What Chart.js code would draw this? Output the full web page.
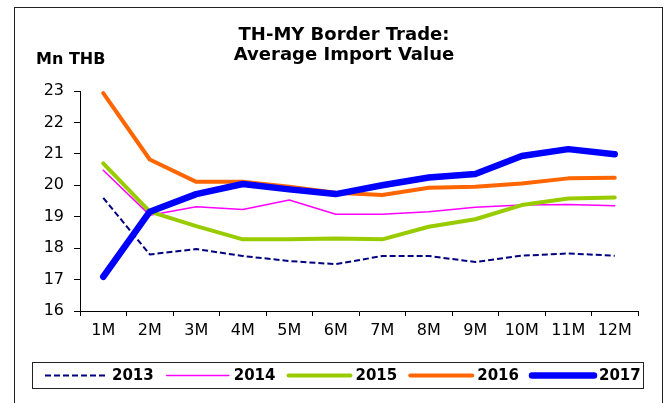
<!DOCTYPE html>
<html>
<head>
<meta charset="utf-8">
<title>TH-MY Border Trade: Average Import Value</title>
<script src="https://cdn.jsdelivr.net/npm/chart.js@4/dist/chart.umd.min.js"></script>
<style>
  html, body { margin: 0; padding: 0; background: #fff; }
  canvas { display: block; }
</style>
</head>
<body>
<canvas id="borderTradeChart" width="667" height="403"></canvas>
<script>
// Monthly average import value, Mn THB
var months = ["1M", "2M", "3M", "4M", "5M", "6M", "7M", "8M", "9M", "10M", "11M", "12M"];
var years = ["2013", "2014", "2015", "2016", "2017"];

var import2013 = [19.60, 17.80, 17.97, 17.75, 17.59, 17.49, 17.75, 17.75, 17.56, 17.76, 17.83, 17.76];
var import2014 = [20.48, 19.05, 19.32, 19.23, 19.53, 19.08, 19.08, 19.16, 19.30, 19.37, 19.39, 19.35];
var import2015 = [20.70, 19.16, 18.70, 18.28, 18.28, 18.31, 18.28, 18.68, 18.92, 19.37, 19.58, 19.61];
var import2016 = [22.93, 20.82, 20.11, 20.11, 19.95, 19.76, 19.69, 19.92, 19.95, 20.06, 20.22, 20.24];
var import2017 = [17.09, 19.16, 19.72, 20.04, 19.87, 19.72, 20.00, 20.25, 20.36, 20.93, 21.15, 20.99];

var yTicks = [16, 17, 18, 19, 20, 21, 22, 23];

var tickFont = { family: "'DejaVu Sans', sans-serif", size: 16 };

// frame, titles and the boxed legend are drawn by hand
var decorations = {
    id: 'decorations',
    beforeDraw: function (chart) {
        var ctx = chart.ctx;
        ctx.save();
        ctx.fillStyle = '#fff';
        ctx.fillRect(0, 0, chart.width, chart.height);
        ctx.restore();
    },
    afterDraw: function (chart) {
        var ctx = chart.ctx;
        ctx.save();

        // outer frame
        ctx.strokeStyle = '#222';
        ctx.lineWidth = 1;
        ctx.strokeRect(14.5, 7.5, 648, 420);

        // titles
        ctx.fillStyle = '#000';
        ctx.textAlign = 'center';
        ctx.textBaseline = 'alphabetic';
        ctx.font = "bold 18px 'DejaVu Sans', sans-serif";
        ctx.fillText('TH-MY Border Trade:', 344, 40);
        ctx.fillText('Average Import Value', 344, 60);

        ctx.textAlign = 'left';
        ctx.font = "bold 16px 'DejaVu Sans', sans-serif";
        ctx.fillText('Mn THB', 36, 64);

        // legend box
        ctx.strokeRect(32.5, 362.5, 611, 26);
        ctx.font = "bold 15px 'DejaVu Sans', sans-serif";
        ctx.textBaseline = 'middle';
        var x = 45;
        var y = 375.5;
        chart.data.datasets.forEach(function (ds) {
            var dashed = ds.borderDash.length > 0;
            ctx.save();
            ctx.strokeStyle = ds.borderColor;
            ctx.lineWidth = ds.borderWidth;
            ctx.lineCap = dashed ? 'butt' : 'round';
            ctx.setLineDash(ds.borderDash);
            ctx.beginPath();
            ctx.moveTo(x, y);
            ctx.lineTo(x + 62, y);
            ctx.stroke();
            ctx.restore();
            ctx.fillText(ds.label, x + 67, y + 1);
            x += 67 + ctx.measureText(ds.label).width + 13;
        });

        ctx.restore();
    }
};

function series(label, data, color, width, dash, order) {
    return {
        label: label,
        data: data,
        borderColor: color,
        backgroundColor: color,
        borderWidth: width,
        borderDash: dash,
        borderCapStyle: dash.length ? 'butt' : 'round',
        borderJoinStyle: 'round',
        pointRadius: 0,
        pointHoverRadius: 0,
        tension: 0,
        fill: false,
        order: order
    };
}

var borderTradeChart = new Chart(document.getElementById('borderTradeChart'), {
    type: 'line',
    data: {
        labels: months,
        datasets: [
            series(years[0], import2013, '#000080', 2, [6, 3], 5),
            series(years[1], import2014, '#FF00FF', 1.5, [], 4),
            series(years[2], import2015, '#99CC00', 4, [], 3),
            series(years[3], import2016, '#FF6600', 4, [], 2),
            series(years[4], import2017, '#0000FF', 6.5, [], 1)
        ]
    },
    options: {
        responsive: false,
        animation: false,
        layout: { padding: { left: 0, top: 91, right: 29, bottom: 0 } },
        plugins: {
            legend: { display: false },
            title: { display: false },
            tooltip: { enabled: false }
        },
        scales: {
            x: {
                offset: true,
                grid: {
                    offset: true,
                    drawOnChartArea: false,
                    drawTicks: true,
                    tickLength: 5,
                    color: '#000'
                },
                border: { display: true, color: '#000', width: 1 },
                ticks: { color: '#000', font: tickFont, padding: 5, maxRotation: 0, autoSkip: false },
                afterFit: function (scale) { scale.height = 92; }
            },
            y: {
                min: 16,
                max: 23,
                afterBuildTicks: function (scale) {
                    scale.ticks = yTicks.map(function (v) { return { value: v }; });
                },
                grid: {
                    drawOnChartArea: false,
                    drawTicks: true,
                    tickLength: 6,
                    color: '#000'
                },
                border: { display: true, color: '#000', width: 1 },
                ticks: { color: '#000', font: tickFont, padding: 10 },
                afterFit: function (scale) { scale.width = 80; }
            }
        }
    },
    plugins: [decorations]
});
</script>
</body>
</html>
